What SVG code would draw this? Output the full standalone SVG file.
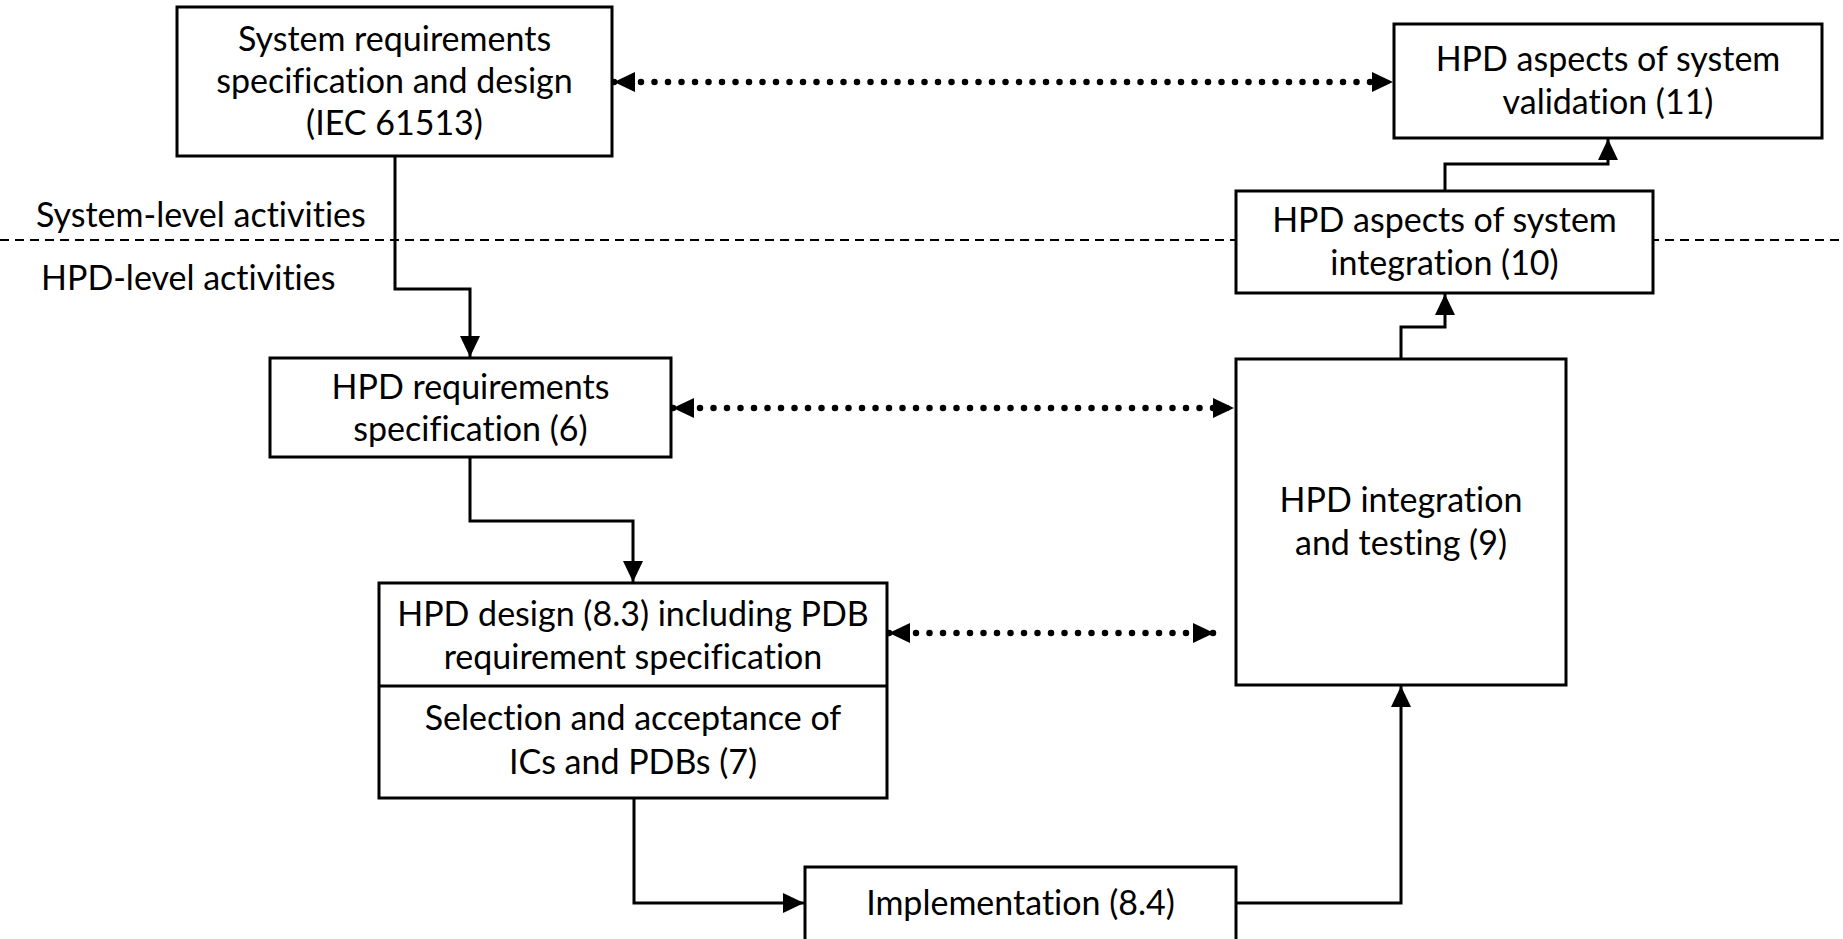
<svg xmlns="http://www.w3.org/2000/svg" width="1843" height="939" viewBox="0 0 1843 939">
<style>
.box{fill:#fff;stroke:#000;stroke-width:3}
.t{font-family:Lato,"Liberation Sans",sans-serif;font-size:34px;fill:#000;text-anchor:middle;font-variant-ligatures:none;font-feature-settings:"liga" 0,"clig" 0}
.lbl{font-family:Lato,"Liberation Sans",sans-serif;font-size:34px;fill:#000;font-variant-ligatures:none;font-feature-settings:"liga" 0,"clig" 0}
.conn{fill:none;stroke:#000;stroke-width:3}
.dot{fill:none;stroke:#000;stroke-width:6.5;stroke-linecap:round;stroke-dasharray:0 13.5}
.dash{fill:none;stroke:#000;stroke-width:1.8;stroke-dasharray:9 6}
</style>
<defs>
<marker id="arr" viewBox="0 0 21 20" refX="21" refY="10" markerWidth="21" markerHeight="20" markerUnits="userSpaceOnUse" orient="auto-start-reverse">
<path d="M0,0 L21,10 L0,20 z" fill="#000"/>
</marker>
</defs>
<rect width="1843" height="939" fill="#fff"/>
<line class="dash" x1="0" y1="240" x2="1843" y2="240"/>
<text class="lbl" x="36" y="227">System-level activities</text>
<text class="lbl" x="41" y="290">HPD-level activities</text>
<g id="connectors">
<path class="conn" d="M395,156 V289 H470 V357" marker-end="url(#arr)"/>
<path class="conn" d="M470,457 V521 H633 V582" marker-end="url(#arr)"/>
<path class="conn" d="M634,798 V903 H804" marker-end="url(#arr)"/>
<path class="conn" d="M1236,903 H1401 V686" marker-end="url(#arr)"/>
<path class="conn" d="M1401,359 V327 H1445 V294" marker-end="url(#arr)"/>
<path class="conn" d="M1445,191 V164 H1608 V139" marker-end="url(#arr)"/>
<path class="dot" d="M614,82 H1393" marker-start="url(#arr)" marker-end="url(#arr)"/>
<path class="dot" d="M673,408 H1234" marker-start="url(#arr)" marker-end="url(#arr)"/>
<path class="dot" d="M889,633 H1214" marker-start="url(#arr)" marker-end="url(#arr)"/>
</g>
<g id="sysreq">
<rect class="box" x="177" y="7" width="435" height="149"/>
<text class="t" x="394.5" y="51">System requirements</text>
<text class="t" x="394.5" y="93">specification and design</text>
<text class="t" x="394.5" y="135">(IEC 61513)</text>
</g>
<g id="validation">
<rect class="box" x="1394" y="24" width="428" height="114"/>
<text class="t" x="1608" y="71">HPD aspects of system</text>
<text class="t" x="1608" y="114">validation (11)</text>
</g>
<g id="sysint">
<rect class="box" x="1236" y="191" width="417" height="102"/>
<text class="t" x="1444.5" y="232">HPD aspects of system</text>
<text class="t" x="1444.5" y="275">integration (10)</text>
</g>
<g id="hpdreq">
<rect class="box" x="270" y="358" width="401" height="99"/>
<text class="t" x="470.5" y="399">HPD requirements</text>
<text class="t" x="470.5" y="441">specification (6)</text>
</g>
<g id="hpdint">
<rect class="box" x="1236" y="359" width="330" height="326"/>
<text class="t" x="1401" y="512">HPD integration</text>
<text class="t" x="1401" y="555">and testing (9)</text>
</g>
<g id="hpddesign">
<rect class="box" x="379" y="583" width="508" height="215"/>
<line x1="379" y1="686" x2="887" y2="686" stroke="#000" stroke-width="3"/>
<text class="t" x="633" y="626">HPD design (8.3) including PDB</text>
<text class="t" x="633" y="669">requirement specification</text>
<text class="t" x="633" y="730">Selection and acceptance of</text>
<text class="t" x="633" y="774">ICs and PDBs (7)</text>
</g>
<g id="impl">
<rect class="box" x="805" y="867" width="431" height="120"/>
<text class="t" x="1020.5" y="915">Implementation (8.4)</text>
</g>
</svg>
